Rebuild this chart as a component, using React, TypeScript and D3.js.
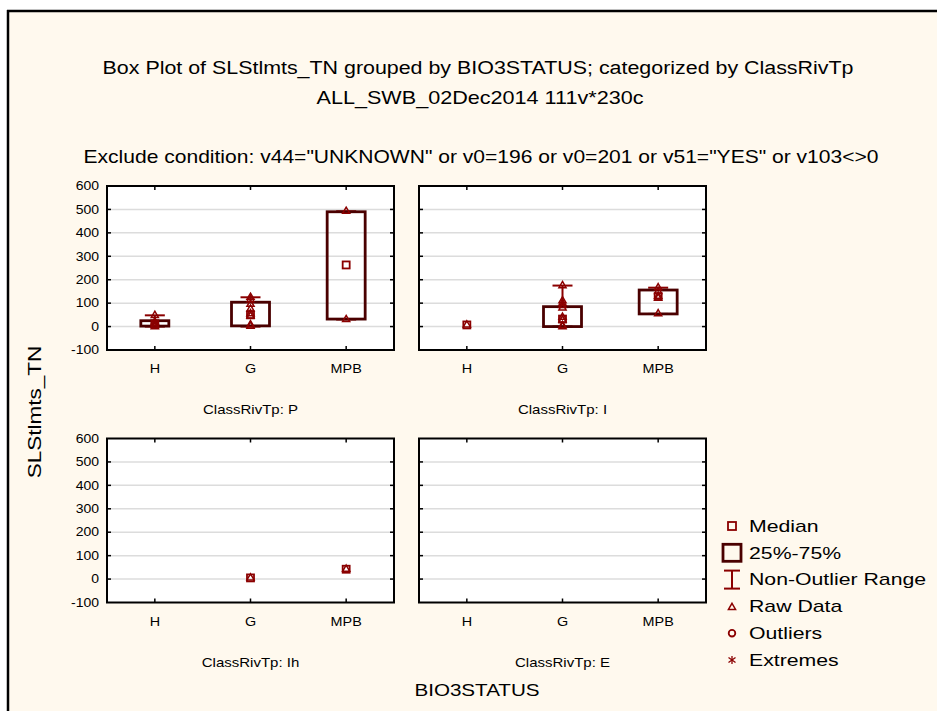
import React from "react";
import * as d3 from "d3";

// ---------------- data ----------------
const panelNames = ["P", "I", "Ih", "E"];
const categories = ["H", "G", "MPB"];
const yTicks = [-100, 0, 100, 200, 300, 400, 500, 600];

// per panel, per category [H, G, MPB]; null = no data
const medians: (number | null)[][] = [
  [12, 50, 263],
  [7, 32, 128],
  [null, 5, 42],
  [null, null, null],
];
const q1s: (number | null)[][] = [
  [2, 3, 32],
  [7, 0, 54],
  [null, 5, 42],
  [null, null, null],
];
const q3s: (number | null)[][] = [
  [25, 104, 490],
  [7, 85, 156],
  [null, 5, 42],
  [null, null, null],
];
const whiskerLows: (number | null)[][] = [
  [0, 0, 30],
  [7, 0, 54],
  [null, 5, 42],
  [null, null, null],
];
const whiskerHighs: (number | null)[][] = [
  [48, 125, 492],
  [7, 175, 166],
  [null, 5, 42],
  [null, null, null],
];
const rawData: number[][][] = [
  [[0, 5, 12, 20, 48], [2, 8, 45, 55, 75, 95, 115, 125], [30, 492]],
  [[7], [0, 5, 28, 40, 80, 90, 100, 110, 175], [55, 122, 130, 150, 166]],
  [[], [5], [42]],
  [[], [], []],
];
const legendItems = ["Median", "25%-75%", "Non-Outlier Range", "Raw Data", "Outliers", "Extremes"];

// ---------------- style ----------------
const BG = "#FFF9EE";
const BOX = "#4A0000";
const RED = "#8B0000";
const FONT = "'Liberation Sans', Arial, sans-serif";

function T({ x, y, size, anchor = "middle", children, rotate = 0, sx = 1.25 }: any) {
  return (
    <text
      transform={`translate(${x},${y}) rotate(${rotate}) scale(${sx},1)`}
      textAnchor={anchor}
      dominantBaseline="central"
      fontSize={size}
      fontFamily={FONT}
      fill="#000"
    >
      {children}
    </text>
  );
}

const tri = d3.symbol().type(d3.symbolTriangle).size(22)();

export default function App() {
  const colX = [107, 419];
  const rowY = [186, 438.5];
  const pw = 287;
  const ph = 164;

  const panels = panelNames.map((name, i) => {
    const x0 = colX[i % 2];
    const y0 = rowY[Math.floor(i / 2)];
    const xs = d3.scaleBand().domain(categories).range([x0, x0 + pw]).padding(0);
    const ys = d3.scaleLinear().domain([-100, 600]).range([y0 + ph, y0]);
    return { name, i, x0, y0, xs, ys };
  });

  return (
    <svg width={937} height={711} style={{ position: "absolute", left: 0, top: 0 }}>
      <rect x={0} y={0} width={937} height={711} fill="#fff" />
      <rect x={8} y={11} width={929} height={700} fill={BG} />
      <line x1={8} y1={10} x2={8} y2={711} stroke="#000" strokeWidth={2.5} />
      <line x1={7} y1={11} x2={937} y2={11} stroke="#000" strokeWidth={2.5} />

      <T x={478} y={68} size={18} sx={1.19}>Box Plot of SLStlmts_TN grouped by  BIO3STATUS; categorized by ClassRivTp</T>
      <T x={480} y={98} size={18} sx={1.2}>ALL_SWB_02Dec2014 111v*230c</T>
      <T x={481} y={157} size={18} sx={1.17}>Exclude condition: v44="UNKNOWN" or v0=196 or v0=201 or v51="YES" or v103&lt;&gt;0</T>

      <T x={35} y={412} size={18} rotate={-90}>SLStlmts_TN</T>
      <T x={477} y={690} size={16.5}>BIO3STATUS</T>

      {panels.map((p) => {
        const bw = p.xs.bandwidth();
        return (
          <g key={p.name}>
            <rect x={p.x0} y={p.y0} width={pw} height={ph} fill="#fff" />
            {yTicks.slice(1, -1).map((t) => (
              <line key={t} x1={p.x0} x2={p.x0 + pw} y1={p.ys(t)} y2={p.ys(t)} stroke="#DCDCDC" strokeWidth={1.5} />
            ))}
            {/* data */}
            {categories.map((c, j) => {
              const cx = (p.xs(c) as number) + bw / 2;
              const med = medians[p.i][j];
              const lo = q1s[p.i][j];
              const hi = q3s[p.i][j];
              const wl = whiskerLows[p.i][j];
              const wh = whiskerHighs[p.i][j];
              const boxW = p.i === 0 && j === 0 ? 28 : 38;
              const hasBox = lo !== null && hi !== null && hi > lo;
              return (
                <g key={c}>
                  {hasBox && wl !== null && wh !== null && (
                    <g stroke={RED} strokeWidth={2}>
                      <line x1={cx} x2={cx} y1={p.ys(wl)} y2={p.ys(lo as number)} />
                      <line x1={cx} x2={cx} y1={p.ys(hi as number)} y2={p.ys(wh)} />
                      <line x1={cx - 10} x2={cx + 10} y1={p.ys(wl)} y2={p.ys(wl)} />
                      <line x1={cx - 10} x2={cx + 10} y1={p.ys(wh)} y2={p.ys(wh)} />
                    </g>
                  )}
                  {hasBox && (
                    <rect
                      x={cx - boxW / 2}
                      y={p.ys(hi as number)}
                      width={boxW}
                      height={p.ys(lo as number) - p.ys(hi as number)}
                      fill="none"
                      stroke={BOX}
                      strokeWidth={2.8}
                    />
                  )}
                  {rawData[p.i][j].map((v, k) => (
                    <path key={k} d={tri as string} transform={`translate(${cx},${p.ys(v)})`} fill="none" stroke={RED} strokeWidth={1.5} />
                  ))}
                  {med !== null && (
                    <rect x={cx - 3.5} y={p.ys(med) - 3.5} width={7} height={7} fill="none" stroke={RED} strokeWidth={1.8} />
                  )}
                </g>
              );
            })}
            {/* ticks */}
            <g stroke="#000" strokeWidth={1.5}>
              {yTicks.slice(1, -1).map((t) => (
                <g key={t}>
                  <line x1={p.x0} x2={p.x0 + 4} y1={p.ys(t)} y2={p.ys(t)} />
                  <line x1={p.x0 + pw - 4} x2={p.x0 + pw} y1={p.ys(t)} y2={p.ys(t)} />
                </g>
              ))}
              {categories.map((c) => {
                const cx = (p.xs(c) as number) + bw / 2;
                return (
                  <g key={c}>
                    <line x1={cx} x2={cx} y1={p.y0} y2={p.y0 + 4} />
                    <line x1={cx} x2={cx} y1={p.y0 + ph - 4} y2={p.y0 + ph} />
                  </g>
                );
              })}
            </g>
            <rect x={p.x0} y={p.y0} width={pw} height={ph} fill="none" stroke="#000" strokeWidth={2} />
            {p.i % 2 === 0 &&
              yTicks.map((t) => (
                <T key={t} x={99} y={p.ys(t)} size={12.5} sx={1.12} anchor="end">{t}</T>
              ))}
            {categories.map((c) => (
              <T key={c} x={(p.xs(c) as number) + bw / 2} y={p.y0 + ph + 19} size={12.5} sx={1.15}>{c}</T>
            ))}
            <T x={p.x0 + pw / 2} y={p.y0 + ph + 60} size={12.5} sx={1.2}>{`ClassRivTp: ${p.name}`}</T>
          </g>
        );
      })}

      {/* legend */}
      {legendItems.map((label, k) => {
        const cy = 526 + k * 26.8;
        const mx = 732;
        let marker: any = null;
        if (k === 0) marker = <rect x={mx - 4} y={cy - 4} width={8} height={8} fill="none" stroke={RED} strokeWidth={1.8} />;
        if (k === 1) marker = <rect x={mx - 9} y={cy - 8.5} width={18} height={17} fill="none" stroke={BOX} strokeWidth={2.8} />;
        if (k === 2)
          marker = (
            <g stroke={RED} strokeWidth={2}>
              <line x1={mx} x2={mx} y1={cy - 9} y2={cy + 9} />
              <line x1={mx - 8} x2={mx + 8} y1={cy - 9} y2={cy - 9} />
              <line x1={mx - 8} x2={mx + 8} y1={cy + 9} y2={cy + 9} />
            </g>
          );
        if (k === 3) marker = <path d={tri as string} transform={`translate(${mx},${cy + 1})`} fill="none" stroke={RED} strokeWidth={1.5} />;
        if (k === 4) marker = <circle cx={mx} cy={cy} r={3.3} fill="none" stroke={RED} strokeWidth={1.8} />;
        if (k === 5)
          marker = (
            <g stroke={RED} strokeWidth={1.3}>
              <line x1={mx} x2={mx} y1={cy - 4} y2={cy + 4} />
              <line x1={mx - 3.5} x2={mx + 3.5} y1={cy - 2.5} y2={cy + 2.5} />
              <line x1={mx - 3.5} x2={mx + 3.5} y1={cy + 2.5} y2={cy - 2.5} />
            </g>
          );
        return (
          <g key={label}>
            {marker}
            <T x={749} y={cy} size={17} anchor="start">{label}</T>
          </g>
        );
      })}
    </svg>
  );
}
